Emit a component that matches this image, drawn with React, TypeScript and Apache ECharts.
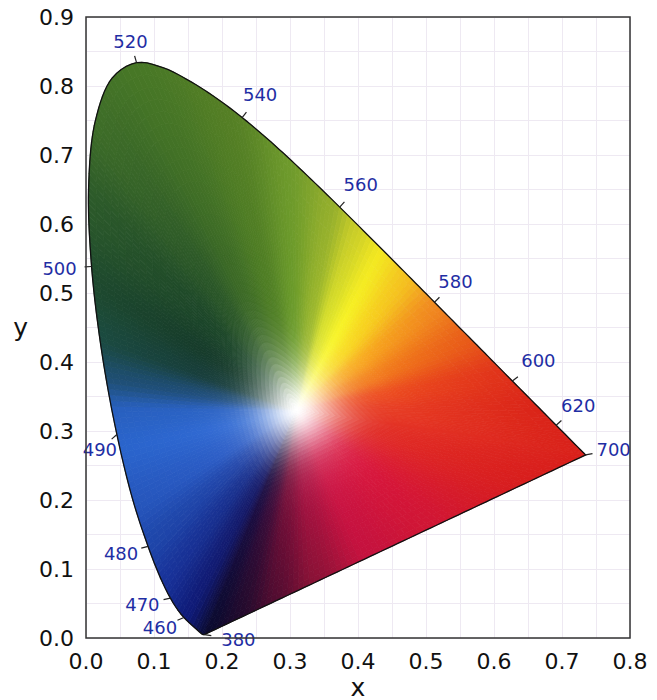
import React, { useEffect, useRef } from "react";
import * as echarts from "echarts";

// CIE 1931 2° spectral locus, 5 nm steps from 380 to 700 nm
const wavelengths = [
  380, 385, 390, 395, 400, 405, 410, 415, 420, 425, 430, 435, 440, 445, 450, 455,
  460, 465, 470, 475, 480, 485, 490, 495, 500, 505, 510, 515, 520, 525, 530, 535,
  540, 545, 550, 555, 560, 565, 570, 575, 580, 585, 590, 595, 600, 605, 610, 615,
  620, 625, 630, 635, 640, 645, 650, 655, 660, 665, 670, 675, 680, 685, 690, 695, 700,
];
const locusX = [
  0.1741, 0.174, 0.1738, 0.1736, 0.1733, 0.173, 0.1726, 0.1721, 0.1714, 0.1703, 0.1689,
  0.1669, 0.1644, 0.1611, 0.1566, 0.151, 0.144, 0.1355, 0.1241, 0.1096, 0.0913, 0.0687,
  0.0454, 0.0235, 0.0082, 0.0039, 0.0139, 0.0389, 0.0743, 0.1142, 0.1547, 0.1929, 0.2296,
  0.2658, 0.3016, 0.3373, 0.3731, 0.4087, 0.4441, 0.4788, 0.5125, 0.5448, 0.5752, 0.6029,
  0.627, 0.6482, 0.6658, 0.6801, 0.6915, 0.7006, 0.7079, 0.714, 0.719, 0.723, 0.726,
  0.7283, 0.73, 0.7311, 0.732, 0.7327, 0.7334, 0.734, 0.7344, 0.7346, 0.7347,
];
const locusY = [
  0.005, 0.005, 0.0049, 0.0049, 0.0048, 0.0048, 0.0048, 0.0048, 0.0051, 0.0058, 0.0069,
  0.0086, 0.0109, 0.0138, 0.0177, 0.0227, 0.0297, 0.0399, 0.0578, 0.0868, 0.1327, 0.2007,
  0.295, 0.4127, 0.5384, 0.6548, 0.7502, 0.812, 0.8338, 0.8262, 0.8059, 0.7816, 0.7543,
  0.7243, 0.6923, 0.6589, 0.6245, 0.5896, 0.5547, 0.5202, 0.4866, 0.4544, 0.4242, 0.3965,
  0.3725, 0.3514, 0.334, 0.3197, 0.3083, 0.2993, 0.292, 0.2859, 0.2809, 0.277, 0.274,
  0.2717, 0.27, 0.2689, 0.268, 0.2673, 0.2666, 0.266, 0.2656, 0.2654, 0.2653,
];
const labeledWavelengths = [380, 460, 470, 480, 490, 500, 520, 540, 560, 580, 600, 620, 700];
const whitePoint = [0.31, 0.33];
const xMin = 0, xMax = 0.8, yMin = 0, yMax = 0.9, tickStep = 0.1;

// styling: label offsets in pixels from the locus point
const labelOffsets: Record<number, [number, number]> = {
  380: [34, 5], 460: [-24, 10], 470: [-28, 6], 480: [-27, 7], 490: [-17, 15],
  500: [-32, 2], 520: [-6, -21], 540: [18, -23], 560: [21, -23], 580: [21, -21],
  600: [26, -20], 620: [22, -20], 700: [28, -5],
};

// hue stops by angle around the white point: [deg, mid colour, edge colour]
const hueStops: [number, string, string][] = [
  [0, "#e63a22", "#da2418"],
  [10, "#ec4a1e", "#e0321a"],
  [22, "#f27a1a", "#e85a18"],
  [37, "#f8a81a", "#f08820"],
  [50, "#f8d81c", "#f4c020"],
  [62, "#f8f424", "#f2e620"],
  [72, "#d8e02a", "#c8cc28"],
  [80, "#9cb82c", "#94ae2c"],
  [92, "#6a9a2a", "#6e9a2c"],
  [103, "#4f7e25", "#557f25"],
  [115, "#3c6a26", "#487826"],
  [125, "#2a5628", "#3f6e28"],
  [135, "#1c4629", "#2c5a2a"],
  [148, "#153a2a", "#1e4a2e"],
  [160, "#163c3a", "#1b4a40"],
  [170, "#1e4c78", "#1e4e70"],
  [180, "#2a62c4", "#2860c0"],
  [192, "#2e68d2", "#2a64cc"],
  [210, "#2a5cc6", "#2656bc"],
  [222, "#2044a8", "#1e46aa"],
  [232, "#18308e", "#18329a"],
  [242, "#141a6a", "#0e1a78"],
  [248, "#1c0c40", "#0a0a2e"],
  [254, "#3a0c3a", "#200a2c"],
  [263, "#760e38", "#500c30"],
  [276, "#a81040", "#8a1236"],
  [295, "#cc1242", "#c4123e"],
  [320, "#d8143c", "#d01634"],
  [345, "#e02a24", "#d81e1c"],
];

const FONT = "DejaVu Sans";

function hexToRgb(h: string): number[] {
  const n = parseInt(h.slice(1), 16);
  return [(n >> 16) & 255, (n >> 8) & 255, n & 255];
}
const stopsRgb = hueStops.map(([a, m, e]) => ({ a, m: hexToRgb(m), e: hexToRgb(e) }));

function mix(a: number[], b: number[], t: number) {
  return [a[0] + (b[0] - a[0]) * t, a[1] + (b[1] - a[1]) * t, a[2] + (b[2] - a[2]) * t];
}

function hueAt(theta: number) {
  const n = stopsRgb.length;
  for (let i = 0; i < n; i++) {
    const s0 = stopsRgb[i];
    const s1 = stopsRgb[(i + 1) % n];
    const a0 = s0.a;
    let a1 = s1.a;
    if (a1 <= a0) a1 += 360;
    let th = theta;
    if (th < a0) th += 360;
    if (th >= a0 && th <= a1) {
      let t = (th - a0) / (a1 - a0);
      t = t * t * (3 - 2 * t) * 0.5 + t * 0.5;
      return { m: mix(s0.m, s1.m, t), e: mix(s0.e, s1.e, t) };
    }
  }
  return { m: stopsRgb[0].m, e: stopsRgb[0].e };
}

// r: relative distance to the locus (0..1), d: absolute distance from the white point
function colorAt(theta: number, r: number, d: number) {
  const { m, e } = hueAt(theta);
  const white = [255, 255, 255];
  const rMid = 0.45;
  let c = r < rMid ? m : mix(m, e, (r - rMid) / (1 - rMid));
  const s = Math.min(1, r / 0.35);
  c = mix(white, c, 0.55 + 0.45 * (1 - Math.pow(1 - s, 2)));
  const w = Math.exp(-Math.pow(d / 0.055, 1.5));
  c = mix(c, white, w);
  return `rgb(${Math.round(c[0])},${Math.round(c[1])},${Math.round(c[2])})`;
}

// smooth boundary (centripetal Catmull-Rom through the locus points, straight purple line)
function buildBoundary(): number[][] {
  const raw: number[][] = [];
  const n = locusX.length;
  for (let i = 0; i < n; i++) {
    const p = [locusX[i], locusY[i]];
    if (raw.length === 0) { raw.push(p); continue; }
    const q = raw[raw.length - 1];
    const d = Math.hypot(p[0] - q[0], p[1] - q[1]);
    if (i === n - 1) {
      if (d < 0.002 && raw.length > 1) raw[raw.length - 1] = p; else raw.push(p);
    } else if (d >= 0.002) raw.push(p);
  }
  const m = raw.length;
  const P = (i: number) => {
    if (i < 0) return [2 * raw[0][0] - raw[1][0], 2 * raw[0][1] - raw[1][1]];
    if (i >= m) return [2 * raw[m - 1][0] - raw[m - 2][0], 2 * raw[m - 1][1] - raw[m - 2][1]];
    return raw[i];
  };
  const pts: number[][] = [];
  const dist = (a: number[], b: number[]) => Math.max(1e-9, Math.hypot(a[0] - b[0], a[1] - b[1]));
  for (let i = 0; i < m - 1; i++) {
    const p0 = P(i - 1), p1 = P(i), p2 = P(i + 1), p3 = P(i + 2);
    const t0 = 0;
    const t1 = t0 + Math.sqrt(dist(p0, p1));
    const t2 = t1 + Math.sqrt(dist(p1, p2));
    const t3 = t2 + Math.sqrt(dist(p2, p3));
    const segs = Math.max(1, Math.ceil(dist(p1, p2) / 0.009));
    for (let j = 0; j < segs; j++) {
      const t = t1 + ((t2 - t1) * j) / segs;
      const lerp = (a: number[], b: number[], ta: number, tb: number) => [
        ((tb - t) / (tb - ta)) * a[0] + ((t - ta) / (tb - ta)) * b[0],
        ((tb - t) / (tb - ta)) * a[1] + ((t - ta) / (tb - ta)) * b[1],
      ];
      const A1 = lerp(p0, p1, t0, t1);
      const A2 = lerp(p1, p2, t1, t2);
      const A3 = lerp(p2, p3, t2, t3);
      const B1 = lerp(A1, A2, t0, t2);
      const B2 = lerp(A2, A3, t1, t3);
      pts.push(lerp(B1, B2, t1, t2));
    }
  }
  const last = raw[m - 1];
  const first = raw[0];
  const len = dist(last, first);
  const segs = Math.ceil(len / 0.009);
  for (let j = 0; j < segs; j++) {
    const t = j / segs;
    pts.push([last[0] + (first[0] - last[0]) * t, last[1] + (first[1] - last[1]) * t]);
  }
  return pts;
}

export default function App() {
  const ref = useRef<HTMLDivElement>(null);
  useEffect(() => {
    document.body.style.margin = "0";
    if (!ref.current) return;
    const chart = echarts.init(ref.current, undefined, { renderer: "svg" });
    const boundary = buildBoundary();
    const [wx, wy] = whitePoint;
    const N = 40;
    const radii = Array.from({ length: N + 1 }, (_, k) => Math.pow(k / N, 1.45));

    const fillRender = (params: any, api: any) => {
      if (params.dataIndex !== 0) return null;
      const children: any[] = [];
      const B = boundary;
      const p = (pt: number[], r: number) =>
        api.coord([wx + (pt[0] - wx) * r, wy + (pt[1] - wy) * r]);
      for (let i = 0; i < B.length; i++) {
        const a = B[i];
        const b = B[(i + 1) % B.length];
        const cx = (a[0] + b[0]) / 2;
        const cy = (a[1] + b[1]) / 2;
        const L = Math.hypot(cx - wx, cy - wy);
        let theta = (Math.atan2(cy - wy, cx - wx) * 180) / Math.PI;
        if (theta < 0) theta += 360;
        for (let k = 0; k < N; k++) {
          const r0 = radii[k];
          const r1 = radii[k + 1];
          const rm = (r0 + r1) / 2;
          const points = [p(a, r0), p(a, r1), p(b, r1), p(b, r0)];
          const fill = colorAt(theta, rm, rm * L);
          children.push({
            type: "polygon",
            shape: { points },
            style: { fill, stroke: fill, lineWidth: 0.8 },
            silent: true,
          });
        }
      }
      children.push({
        type: "polygon",
        shape: { points: B.map((q) => api.coord(q)) },
        style: { fill: "none", stroke: "#111", lineWidth: 1.3 },
        silent: true,
      });
      return { type: "group", children };
    };

    const labelRender = (params: any, api: any) => {
      const x = api.value(0);
      const y = api.value(1);
      const wl = api.value(2);
      const pt = api.coord([x, y]);
      const off = labelOffsets[wl] || [20, -20];
      const len = Math.hypot(off[0], off[1]);
      const ux = off[0] / len;
      const uy = off[1] / len;
      return {
        type: "group",
        children: [
          {
            type: "line",
            shape: { x1: pt[0], y1: pt[1], x2: pt[0] + ux * 7, y2: pt[1] + uy * 7 },
            style: { stroke: "#222", lineWidth: 1.2 },
          },
          {
            type: "text",
            x: pt[0] + off[0],
            y: pt[1] + off[1],
            style: {
              text: String(wl),
              fill: "#1f2ea4",
              font: `18px "${FONT}"`,
              align: "center",
              verticalAlign: "middle",
            },
          },
        ],
      };
    };

    const labelData = labeledWavelengths.map((w) => {
      const i = wavelengths.indexOf(w);
      return [locusX[i], locusY[i], w];
    });

    const gridColor = "#eee9f2";
    const axisCommon = {
      type: "value" as const,
      nameLocation: "middle" as const,
      nameMoveOverlap: false,
      nameTextStyle: { fontSize: 25, color: "#111", fontFamily: FONT, lineHeight: 24 },
      axisLine: { show: false },
      axisTick: { show: false },
      axisLabel: {
        formatter: (v: number) => v.toFixed(1),
        fontSize: 22,
        lineHeight: 22,
        color: "#111",
        fontFamily: FONT,
        margin: 12,
      },
      splitLine: { show: true, lineStyle: { color: gridColor, width: 1 } },
      minorTick: { show: false, splitNumber: 2 },
      minorSplitLine: { show: true, lineStyle: { color: gridColor, width: 1 } },
    };

    chart.setOption({
      animation: false,
      backgroundColor: "#ffffff",
      grid: {
        left: 86,
        right: 27,
        top: 17,
        bottom: 62,
        outerBoundsMode: "none",
        containLabel: false,
        show: true,
        borderColor: "#333",
        borderWidth: 1.5,
        backgroundColor: "transparent",
        z: 10,
      },
      xAxis: {
        ...axisCommon,
        min: xMin,
        max: xMax,
        interval: tickStep,
        name: "x",
        nameGap: 37,
      },
      yAxis: {
        ...axisCommon,
        min: yMin,
        max: yMax,
        interval: tickStep,
        name: "y",
        nameGap: 58,
        nameRotate: 0,
      },
      series: [
        {
          type: "custom",
          name: "locus",
          renderItem: fillRender,
          data: [[whitePoint[0], whitePoint[1]]],
          clip: false,
          silent: true,
          z: 1,
        },
        {
          type: "custom",
          name: "labels",
          renderItem: labelRender,
          data: labelData,
          clip: false,
          silent: true,
          z: 4,
        },
      ],
    });
    return () => chart.dispose();
  }, []);
  return (
    <div
      ref={ref}
      style={{ width: 657, height: 700, position: "absolute", left: 0, top: 0 }}
    />
  );
}
